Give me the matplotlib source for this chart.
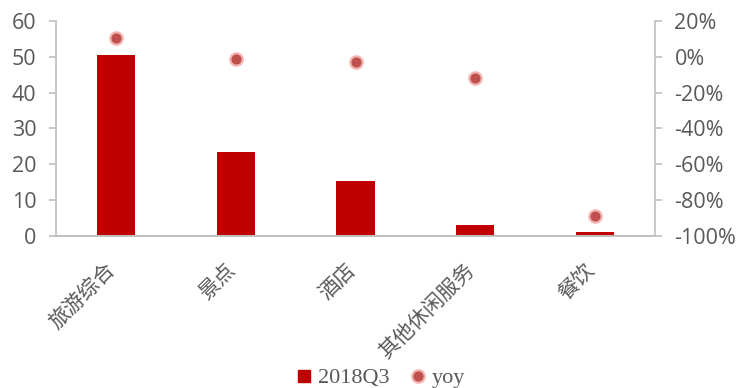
import matplotlib
matplotlib.use("Agg")
import matplotlib.pyplot as plt
import matplotlib.transforms as mtransforms
from matplotlib.ticker import FuncFormatter
from matplotlib.lines import Line2D

categories = ["旅游综合", "景点", "酒店", "其他休闲服务", "餐饮"]
revenue_2018q3 = [50.6, 23.4, 15.3, 3.1, 1.1]
yoy = [0.103, -0.012, -0.029, -0.118, -0.886]

bar_color = "#C00000"
dot_color = "#C0504D"
dot_edge = "#F4B6B4"
grid_gray = "#BFBFBF"
text_gray = "#595959"

fig = plt.figure(figsize=(7.4, 3.88), dpi=100)
ax = fig.add_axes([56 / 740, 1 - 236 / 388, 599 / 740, 215 / 388])
ax2 = ax.twinx()

x = list(range(len(categories)))
ax.bar(x, revenue_2018q3, width=0.32, color=bar_color, zorder=2)
ax2.scatter(x, yoy, s=80, color=dot_color, edgecolors=dot_edge, linewidths=1.6, zorder=3)

ax.set_xlim(-0.5, len(categories) - 0.5)
ax.set_ylim(0, 60)
ax.set_yticks(range(0, 61, 10))
ax2.set_ylim(-1.0, 0.2)
ax2.set_yticks([0.2, 0.0, -0.2, -0.4, -0.6, -0.8, -1.0])
ax2.yaxis.set_major_formatter(FuncFormatter(lambda v, p: f"{v * 100:.0f}%"))

for a in (ax, ax2):
    a.spines["top"].set_visible(False)
    for s in ("left", "right", "bottom"):
        a.spines[s].set_color(grid_gray)
        a.spines[s].set_linewidth(1.2)
    a.tick_params(axis="y", colors=grid_gray, labelcolor=text_gray, labelsize=15.5,
                  length=5, width=1.2, pad=9)
    for lbl in a.get_yticklabels():
        lbl.set_fontfamily("Open Sans")
ax.spines["right"].set_visible(False)
ax2.spines["left"].set_visible(False)

ax.set_xticks(x)
ax.set_xticklabels(categories, rotation=45, ha="right", va="center", rotation_mode="anchor",
                   fontsize=15, color=text_gray, family=["Noto Sans CJK SC", "DejaVu Sans"])
ax.tick_params(axis="x", length=0, pad=22)
shift = mtransforms.ScaledTranslation(-4 / 100, 0, fig.dpi_scale_trans)
for lbl in ax.get_xticklabels():
    lbl.set_transform(lbl.get_transform() + shift)

handles = [
    Line2D([0], [0], marker="s", linestyle="none", markersize=9,
           markerfacecolor=bar_color, markeredgecolor=bar_color),
    Line2D([0], [0], marker="o", linestyle="none", markersize=9,
           markerfacecolor=dot_color, markeredgecolor=dot_edge, markeredgewidth=1.6),
]
fig.legend(handles, ["2018Q3", "yoy"], loc="center", ncol=2, frameon=False,
           bbox_to_anchor=(0.512, 10 / 388), handletextpad=0.1, handlelength=1.0,
           columnspacing=0.8,
           prop={"family": "Liberation Serif", "size": 16}, labelcolor=text_gray)

fig.savefig("out.png", dpi=100)
